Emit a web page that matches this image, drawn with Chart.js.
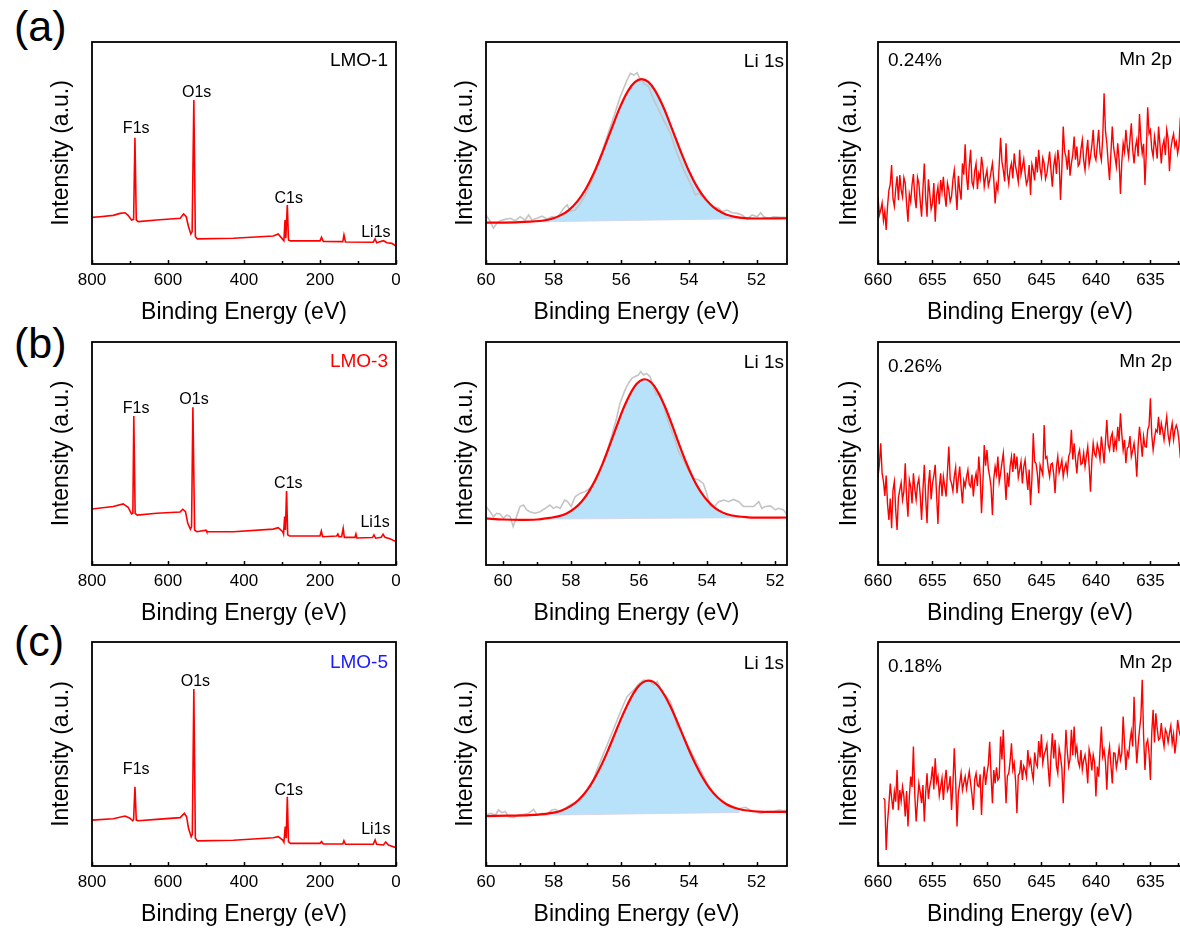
<!DOCTYPE html>
<html>
<head>
<meta charset="utf-8">
<title>XPS spectra of LMO samples</title>
<script src="https://cdn.jsdelivr.net/npm/chart.js@4.4.1/dist/chart.umd.min.js"></script>
<style>
  html, body { margin: 0; padding: 0; background: #fff; }
  body { position: relative; width: 1180px; height: 928px; overflow: hidden; }
  canvas { position: absolute; }
  .tag { position: absolute; left: 14px; font: 43px 'Liberation Sans', Arial, sans-serif; line-height: 43px; color: #000; }
</style>
</head>
<body>
<div class="tag" style="top:5px">(a)</div>
<div class="tag" style="top:322px">(b)</div>
<div class="tag" style="top:620px">(c)</div>
<script>
// ---- survey spectra (binding energy in eV, intensity in a.u.) ----
const surveyEnergyA = [800, 779, 744, 726, 713, 705, 696, 690.5, 687, 683.5, 678, 630, 568, 559, 552, 546, 540, 536.5, 532, 528, 522.5, 428, 323, 310, 298, 295, 292, 290, 286, 283, 278, 200, 196, 191.5, 140, 137, 133, 60, 55, 51, 33, 24, 11, 0];
const surveyLMO1 = [21.0, 21.3, 21.9, 22.8, 23.1, 21.9, 19.8, 20.1, 56.9, 19.8, 19.1, 19.8, 20.6, 22.5, 21.3, 16.8, 13.5, 14.6, 73.9, 12.3, 11.3, 11.6, 12.6, 13.5, 11.1, 10.5, 19.8, 11.6, 26.6, 10.8, 10.4, 10.4, 12.0, 10.2, 10.1, 13.1, 9.9, 9.8, 11.3, 9.6, 10.5, 9.6, 9.3, 8.1];

const surveyEnergyB = [800, 744, 718, 705, 696, 692.5, 690, 686.5, 681, 630, 568, 561, 554, 548, 541, 538, 534.5, 530, 524, 500, 498, 428, 323, 310, 298, 296, 293, 291, 288, 285, 280, 200, 196.5, 193, 156, 153, 150, 143, 139, 136, 108, 105.5, 103, 62, 58, 53.5, 39, 34, 29, 16, 0];
const surveyLMO3 = [25.1, 26.2, 27.4, 25.9, 22.9, 23.2, 66.8, 23.2, 22.4, 23.2, 23.8, 25.0, 23.9, 18.7, 16.0, 17.2, 70.7, 15.7, 14.9, 15.6, 14.9, 14.9, 16.1, 16.7, 14.9, 13.9, 21.7, 15.7, 33.2, 13.5, 13.0, 13.0, 15.2, 12.7, 13.0, 13.9, 12.7, 12.7, 16.4, 12.4, 12.4, 13.9, 12.1, 12.3, 13.5, 12.0, 12.4, 13.8, 12.4, 11.8, 10.5];

const surveyEnergyC = [800, 744, 713, 700, 693, 690.5, 687, 683.5, 678, 630, 568, 557, 551, 546, 539, 536, 532, 528, 522.5, 428, 323, 310, 298, 295, 291.5, 289, 286, 283, 278, 200, 196, 191.5, 140, 137, 133, 60, 55, 51, 33, 27, 20, 0];
const surveyLMO5 = [20.5, 21.1, 22.3, 21.3, 20.2, 20.8, 35.4, 20.5, 20.2, 20.8, 21.6, 23.5, 22.0, 16.8, 13.1, 14.3, 79.0, 12.4, 11.2, 11.5, 12.6, 13.1, 11.6, 10.6, 17.6, 12.4, 30.9, 10.9, 10.1, 10.1, 10.9, 9.8, 9.8, 11.3, 9.7, 9.7, 11.6, 9.7, 9.4, 10.7, 9.4, 8.2];

// peak labels: name, energy and the intensity of the text baseline
const peakNames = ['F1s', 'O1s', 'C1s', 'Li1s'];
const peakEnergyA = [683.7, 524.6, 282.5, 53];
const peakLevelA = [58.9, 75.4, 27.3, 12.3];
const peakEnergyB = [684, 531.5, 283.3, 55];
const peakLevelB = [68.0, 72.2, 34.4, 17.2];
const peakEnergyC = [683.7, 528, 282.5, 53];
const peakLevelC = [41.1, 80.4, 31.7, 14.3];

// ---- Li 1s: raw counts, fitted peak, background line ----
const li1RawE = [60.0, 59.87, 59.78, 59.68, 59.58, 59.43, 59.28, 59.13, 58.99, 58.84, 58.74, 58.64, 58.49, 58.34, 58.20, 58.05, 57.90, 57.70, 57.60, 57.51, 57.36, 57.21, 57.06, 56.86, 56.62, 56.42, 56.22, 56.03, 55.83, 55.73, 55.63, 55.53, 55.48, 55.34, 55.19, 55.04, 54.94, 54.75, 54.55, 54.35, 54.15, 53.96, 53.81, 53.71, 53.61, 53.51, 53.31, 53.12, 53.02, 52.87, 52.72, 52.57, 52.43, 52.28, 52.13, 51.98, 51.88, 51.79, 51.64, 51.49, 51.29, 51.14];
const li1Raw = [22.1, 19.1, 16.1, 18.3, 19.5, 20.1, 20.6, 19.5, 21.3, 19.8, 22.1, 19.8, 20.6, 21.6, 20.3, 21.3, 20.6, 25.1, 26.6, 23.6, 24.3, 27.3, 31.1, 37.8, 48.3, 57.4, 66.4, 75.4, 82.9, 85.9, 85.1, 86.2, 84.4, 81.4, 79.9, 73.9, 70.9, 64.9, 58.9, 49.8, 42.3, 36.3, 31.1, 31.8, 30.3, 28.8, 25.8, 25.1, 23.6, 24.3, 23.1, 22.8, 22.1, 20.3, 22.1, 21.3, 23.1, 21.3, 20.6, 21.3, 21.0, 21.0];
const li1FitE = [60.0, 59.0, 58.3, 58.05, 57.8, 57.55, 57.3, 57.05, 56.8, 56.55, 56.3, 56.05, 55.8, 55.6, 55.4, 55.2, 55.0, 54.75, 54.5, 54.25, 54.0, 53.75, 53.5, 53.25, 53.0, 52.75, 52.5, 52.0, 51.1];
const li1Fit = [18.6, 18.9, 19.6, 20.4, 21.9, 24.3, 28.2, 33.8, 41.3, 50.5, 60.4, 70.2, 78.0, 81.9, 83.3, 82.0, 78.1, 70.5, 60.9, 51.0, 41.9, 34.5, 29.1, 25.3, 23.0, 21.6, 20.9, 20.5, 20.6];
const li1BgE = [58.4, 52.4];
const li1Bg = [19.0, 20.4];

const li3RawE = [60.5, 60.38, 60.28, 60.19, 60.09, 59.99, 59.89, 59.79, 59.70, 59.60, 59.50, 59.40, 59.30, 59.21, 59.06, 58.91, 58.76, 58.62, 58.52, 58.42, 58.32, 58.19, 58.10, 58.0, 57.88, 57.74, 57.59, 57.44, 57.25, 57.10, 56.96, 56.81, 56.66, 56.56, 56.41, 56.31, 56.21, 56.12, 56.02, 55.95, 55.87, 55.78, 55.68, 55.58, 55.49, 55.39, 55.29, 55.19, 55.09, 54.94, 54.84, 54.70, 54.55, 54.40, 54.25, 54.11, 54.01, 53.91, 53.78, 53.66, 53.51, 53.37, 53.22, 53.07, 52.93, 52.78, 52.63, 52.48, 52.39, 52.29, 52.14, 51.99, 51.90, 51.75, 51.65];
const li3Raw = [26.2, 23.9, 21.7, 23.2, 22.9, 20.9, 22.4, 21.7, 17.2, 21.7, 26.2, 26.9, 24.7, 23.9, 23.2, 23.9, 25.4, 26.9, 25.4, 26.2, 25.4, 29.1, 28.4, 26.2, 30.6, 32.1, 32.9, 34.4, 38.1, 44.1, 50.1, 57.5, 65.8, 72.5, 78.5, 81.5, 83.7, 84.5, 85.2, 86.7, 85.2, 85.9, 84.5, 80.0, 76.2, 77.0, 72.5, 66.5, 62.0, 56.1, 50.8, 47.1, 42.6, 38.9, 38.1, 36.6, 32.1, 26.2, 26.2, 28.4, 29.1, 28.4, 29.4, 28.4, 26.2, 26.2, 26.2, 28.4, 25.4, 26.2, 26.5, 24.7, 25.4, 24.7, 22.4];
const li3FitE = [60.5, 60.0, 59.5, 59.0, 58.6, 58.38, 58.13, 57.88, 57.68, 57.48, 57.28, 57.08, 56.9, 56.73, 56.43, 56.13, 55.98, 55.84, 55.7, 55.55, 55.25, 54.95, 54.78, 54.6, 54.4, 54.2, 54.0, 53.8, 53.55, 53.3, 52.8, 52.3, 51.65];
const li3Fit = [20.9, 20.4, 20.2, 20.4, 21.2, 21.8, 23.1, 25.6, 28.6, 32.8, 38.3, 45.1, 52.2, 59.3, 71.3, 80.1, 82.5, 83.3, 82.6, 80.2, 71.4, 59.5, 52.4, 45.4, 38.6, 33.1, 29.0, 26.0, 23.6, 22.3, 21.4, 21.2, 21.3];
const li3BgE = [58.7, 53.0];
const li3Bg = [20.6, 21.2];

const li5RawE = [60.0, 59.87, 59.72, 59.63, 59.53, 59.43, 59.33, 59.18, 59.04, 58.89, 58.74, 58.59, 58.49, 58.34, 58.20, 58.05, 57.95, 57.80, 57.60, 57.41, 57.21, 57.01, 56.86, 56.72, 56.52, 56.32, 56.12, 55.98, 55.83, 55.63, 55.48, 55.34, 55.19, 55.04, 54.94, 54.84, 54.70, 54.55, 54.45, 54.35, 54.20, 54.05, 53.86, 53.66, 53.46, 53.27, 53.07, 52.87, 52.67, 52.48, 52.33, 52.18, 52.04, 51.88, 51.69, 51.49, 51.34, 51.20, 51.1];
const li5Raw = [22.8, 23.5, 22.8, 25.0, 23.8, 24.3, 22.0, 21.7, 22.8, 23.1, 23.5, 25.3, 22.8, 23.5, 23.2, 25.0, 25.3, 23.8, 26.5, 28.0, 29.5, 33.9, 36.9, 42.9, 50.3, 57.7, 65.2, 70.4, 75.6, 78.6, 81.3, 83.0, 82.7, 80.8, 82.3, 79.3, 76.3, 73.4, 68.9, 62.2, 59.2, 54.0, 48.8, 42.9, 36.9, 32.4, 29.5, 26.8, 25.7, 25.7, 26.2, 25.0, 24.3, 23.5, 24.3, 24.3, 25.0, 24.6, 25.0];
const li5FitE = [60.0, 59.3, 58.6, 58.0, 57.75, 57.5, 57.25, 57.0, 56.8, 56.6, 56.4, 56.2, 56.0, 55.85, 55.7, 55.5, 55.35, 55.2, 55.05, 54.9, 54.7, 54.55, 54.4, 54.2, 54.0, 53.8, 53.6, 53.4, 53.15, 52.9, 52.65, 52.4, 51.8, 51.1];
const li5Fit = [22.3, 22.45, 22.8, 23.8, 24.9, 26.7, 29.7, 34.1, 38.9, 44.7, 51.4, 58.7, 66.0, 71.0, 75.5, 80.1, 82.1, 82.8, 82.2, 80.2, 75.7, 71.3, 66.3, 59.1, 51.9, 45.3, 39.6, 34.9, 30.6, 27.7, 26.0, 25.0, 24.2, 24.2];
const li5BgE = [58.3, 52.5];
const li5Bg = [22.7, 23.9];

// ---- Mn 2p region, 0.125 eV steps ----
const mnEnergy = [
  660, 659.875, 659.75, 659.625, 659.5, 659.375, 659.25, 659.125, 659, 658.875, 658.75, 658.625, 658.5, 658.375, 658.25, 658.125,
  658, 657.875, 657.75, 657.625, 657.5, 657.375, 657.25, 657.125, 657, 656.875, 656.75, 656.625, 656.5, 656.375, 656.25, 656.125,
  656, 655.875, 655.75, 655.625, 655.5, 655.375, 655.25, 655.125, 655, 654.875, 654.75, 654.625, 654.5, 654.375, 654.25, 654.125,
  654, 653.875, 653.75, 653.625, 653.5, 653.375, 653.25, 653.125, 653, 652.875, 652.75, 652.625, 652.5, 652.375, 652.25, 652.125,
  652, 651.875, 651.75, 651.625, 651.5, 651.375, 651.25, 651.125, 651, 650.875, 650.75, 650.625, 650.5, 650.375, 650.25, 650.125,
  650, 649.875, 649.75, 649.625, 649.5, 649.375, 649.25, 649.125, 649, 648.875, 648.75, 648.625, 648.5, 648.375, 648.25, 648.125,
  648, 647.875, 647.75, 647.625, 647.5, 647.375, 647.25, 647.125, 647, 646.875, 646.75, 646.625, 646.5, 646.375, 646.25, 646.125,
  646, 645.875, 645.75, 645.625, 645.5, 645.375, 645.25, 645.125, 645, 644.875, 644.75, 644.625, 644.5, 644.375, 644.25, 644.125,
  644, 643.875, 643.75, 643.625, 643.5, 643.375, 643.25, 643.125, 643, 642.875, 642.75, 642.625, 642.5, 642.375, 642.25, 642.125,
  642, 641.875, 641.75, 641.625, 641.5, 641.375, 641.25, 641.125, 641, 640.875, 640.75, 640.625, 640.5, 640.375, 640.25, 640.125,
  640, 639.875, 639.75, 639.625, 639.5, 639.375, 639.25, 639.125, 639, 638.875, 638.75, 638.625, 638.5, 638.375, 638.25, 638.125,
  638, 637.875, 637.75, 637.625, 637.5, 637.375, 637.25, 637.125, 637, 636.875, 636.75, 636.625, 636.5, 636.375, 636.25, 636.125,
  636, 635.875, 635.75, 635.625, 635.5, 635.375, 635.25, 635.125, 635, 634.875, 634.75, 634.625, 634.5, 634.375, 634.25, 634.125,
  634, 633.875, 633.75, 633.625, 633.5, 633.375, 633.25, 633.125, 633, 632.875, 632.75, 632.625, 632.5, 632.375, 632.25
];
const mnLMO1 = [
  30.3, 22.0, 24.3, 27.5, 19.6, 23.8, 15.3, 26.1, 33.2, 36.0, 44.6, 29.4, 26.0, 33.8, 39.5, 28.7,
  40.1, 33.4, 30.3, 38.9, 36.3, 27.2, 19.0, 31.5, 28.1, 35.7, 40.5, 30.2, 25.1, 39.0, 36.3, 28.4,
  21.3, 34.0, 45.3, 29.6, 21.3, 38.2, 31.8, 24.7, 27.3, 36.5, 19.1, 30.8, 34.8, 26.9, 37.8, 32.6,
  39.3, 31.0, 25.8, 36.4, 33.3, 28.1, 30.3, 37.9, 42.3, 33.6, 24.3, 39.7, 33.3, 29.0, 45.3, 40.2,
  53.9, 39.5, 33.3, 44.0, 51.4, 36.8, 34.8, 41.9, 45.3, 33.7, 40.8, 38.3, 48.3, 43.5, 34.8, 39.1,
  42.3, 35.2, 37.8, 41.6, 45.3, 38.0, 27.3, 35.9, 33.3, 44.8, 56.9, 46.1, 42.3, 37.2, 54.4, 41.0,
  36.3, 42.7, 45.3, 38.5, 49.8, 44.1, 40.8, 37.0, 51.4, 40.3, 43.8, 47.2, 40.8, 35.9, 37.8, 44.6,
  31.1, 44.9, 42.3, 37.6, 48.3, 41.2, 51.4, 43.0, 39.3, 47.7, 45.3, 38.4, 40.8, 45.5, 50.6, 42.1,
  34.8, 44.1, 48.3, 40.6, 51.4, 46.0, 28.8, 43.2, 61.9, 50.7, 48.3, 42.5, 51.4, 39.8, 45.3, 49.4,
  57.4, 47.0, 52.9, 44.2, 45.3, 51.6, 55.9, 46.8, 42.3, 50.1, 55.9, 44.7, 48.3, 53.3, 60.4, 48.9,
  46.8, 53.5, 60.4, 50.2, 46.8, 57.0, 76.9, 60.1, 54.4, 45.6, 37.8, 49.9, 61.9, 52.4, 48.3, 44.0,
  54.4, 47.1, 31.6, 45.8, 54.4, 50.6, 60.4, 53.0, 48.3, 56.2, 63.4, 51.5, 45.3, 52.7, 55.9, 48.4,
  67.6, 56.0, 49.8, 54.1, 35.6, 50.3, 70.6, 58.8, 60.4, 51.7, 48.3, 57.4, 52.9, 47.5, 61.9, 53.9,
  45.3, 53.2, 55.9, 49.0, 60.4, 56.3, 41.8, 51.8, 55.9, 58.6, 52.9, 55.0, 49.8, 53.7, 66.0
];
const mnLMO3 = [
  39.6, 45.0, 54.6, 41.2, 37.6, 31.0, 40.1, 27.4, 20.2, 29.8, 16.5, 33.5, 37.4, 24.6, 15.7, 30.2,
  33.7, 36.9, 29.2, 33.0, 45.6, 30.4, 21.7, 38.2, 35.1, 27.6, 41.1, 34.3, 29.2, 36.0, 38.8, 31.2,
  20.2, 33.6, 44.9, 30.1, 18.7, 35.8, 42.6, 29.4, 36.6, 40.0, 44.9, 31.7, 18.4, 34.5, 41.1, 30.8,
  39.6, 35.3, 30.7, 42.0, 53.1, 38.4, 36.6, 33.1, 39.6, 43.7, 32.2, 38.9, 44.1, 35.0, 27.6, 37.7,
  35.1, 39.4, 42.6, 36.2, 35.1, 40.5, 30.7, 37.9, 41.1, 35.4, 48.6, 40.2, 23.2, 36.7, 53.8, 44.5,
  51.6, 43.2, 39.6, 35.0, 22.4, 38.6, 44.1, 40.7, 48.6, 37.3, 41.1, 45.8, 50.1, 39.9, 29.2, 41.4,
  35.1, 44.3, 48.6, 41.7, 50.1, 43.0, 48.6, 39.2, 42.6, 46.4, 36.6, 44.0, 47.1, 40.1, 33.7, 42.8,
  26.9, 38.5, 59.1, 46.3, 45.6, 41.0, 32.2, 44.8, 42.6, 40.5, 62.8, 47.9, 48.6, 43.3, 39.6, 45.2,
  45.6, 40.8, 32.2, 43.9, 48.6, 41.5, 44.1, 47.0, 39.6, 43.4, 45.6, 41.2, 48.6, 50.6, 60.6, 47.3,
  54.6, 47.5, 41.1, 49.3, 51.6, 45.1, 45.6, 50.2, 44.1, 48.8, 53.1, 44.6, 32.9, 46.7, 54.6, 50.0,
  48.6, 54.2, 51.6, 47.4, 57.6, 52.0, 45.6, 55.3, 65.0, 53.9, 51.6, 57.2, 59.1, 50.6, 56.1, 52.8,
  62.0, 55.5, 68.0, 58.7, 51.6, 56.1, 45.6, 52.4, 53.1, 57.8, 48.6, 51.3, 54.6, 49.0, 39.6, 53.6,
  62.0, 55.8, 48.6, 57.6, 53.1, 52.9, 60.6, 62.4, 74.8, 58.2, 51.6, 56.9, 60.6, 59.7, 66.5, 58.3,
  63.5, 60.2, 56.1, 61.8, 66.5, 58.4, 54.6, 59.9, 63.5, 56.3, 60.6, 62.7, 60.6, 55.5, 47.9
];
const mnLMO5 = [
  null, null, null, null, 30.3, 29.6, 7.2, 19.5, 27.4, 36.8, 30.3, 25.1, 33.2, 28.7, 42.9, 24.9,
  33.9, 29.0, 35.4, 31.2, 22.1, 33.5, 17.6, 30.6, 39.9, 35.3, 53.3, 31.9, 19.9, 28.4, 36.9, 33.0,
  28.0, 36.1, 19.9, 32.7, 41.4, 30.0, 35.4, 38.6, 44.4, 34.2, 48.1, 37.5, 39.9, 31.4, 35.4, 39.3,
  29.5, 37.8, 42.9, 33.6, 35.4, 40.1, 25.0, 36.3, 52.6, 38.0, 17.6, 32.4, 36.9, 41.5, 33.9, 37.1,
  39.9, 34.5, 38.4, 42.2, 36.9, 31.8, 25.0, 38.7, 41.4, 36.0, 35.4, 40.9, 22.8, 37.4, 44.4, 36.2,
  41.4, 45.3, 55.5, 40.6, 28.0, 42.8, 36.9, 44.1, 38.4, 39.5, 57.8, 47.6, 60.8, 43.9, 28.0, 40.2,
  41.4, 46.9, 54.8, 43.0, 45.9, 38.2, 23.6, 40.5, 41.4, 47.3, 38.4, 44.6, 42.9, 39.8, 51.8, 45.0,
  47.4, 42.1, 38.4, 50.7, 45.9, 44.3, 55.8, 48.5, 58.8, 46.0, 49.8, 51.6, 54.3, 43.8, 35.4, 49.1,
  59.3, 48.0, 56.3, 44.7, 41.4, 52.5, 48.9, 43.6, 28.0, 45.2, 60.8, 50.9, 44.4, 47.8, 60.8, 49.5,
  62.3, 50.1, 53.3, 46.6, 44.4, 51.8, 43.0, 47.2, 49.6, 44.9, 36.9, 52.0, 48.9, 42.7, 49.6, 46.3,
  31.0, 44.4, 39.9, 51.2, 62.3, 49.0, 51.8, 46.5, 34.0, 48.7, 53.3, 45.1, 36.9, 50.5, 50.3, 43.9,
  47.4, 52.8, 47.4, 50.3, 66.7, 54.6, 42.9, 51.0, 48.9, 55.7, 60.0, 53.4, 75.6, 57.9, 45.9, 54.2,
  60.8, 66.5, 83.1, 58.0, 42.9, 54.4, 56.3, 50.2, 38.4, 59.6, 69.7, 55.1, 68.2, 61.3, 56.3, 57.0,
  63.8, 57.4, 53.3, 61.0, 59.3, 55.2, 59.3, 62.6, 54.8, 58.9, 50.3, 56.0, 65.2, 60.7, 58.0
];

// axis ticks
const surveyTicks = [800, 600, 400, 200, 0];
const surveyMinor = [700, 500, 300, 100];
const liTicks = [60, 58, 56, 54, 52];
const liMinor = [59, 57, 55, 53];
const mnTicks = [660, 655, 650, 645, 640, 635];
const mnMinor = [657.5, 652.5, 647.5, 642.5, 637.5, 632.5];

// ---------------------------------------------------------------
const FONT = "'Liberation Sans', Arial, sans-serif";
Chart.defaults.font.family = FONT;
Chart.defaults.color = '#000';

// plot boxes in page pixels
const COLS = [
  { L: 92, R: 396, gap: 30 },
  { L: 486, R: 787, gap: 20 },
  { L: 878, R: 1182, gap: 28 }
];
const ROWS = [
  { T: 42, B: 264 },
  { T: 342, B: 565 },
  { T: 642, B: 866 }
];

const RED = '#ff0000';
const GREY = '#c4c4c4';
const BLUE_FILL = 'rgb(184,226,250)';

function zip(xs, ys) {
  return xs.map((x, i) => ({ x: x, y: ys[i] }));
}

// closed frame, inward ticks and text annotations
const framePlugin = {
  id: 'frame',
  afterDatasetsDraw(chart, args, opts) {
    const { ctx, chartArea: a, scales } = chart;
    const x = scales.x, y = scales.y;
    ctx.save();
    ctx.strokeStyle = '#000';
    ctx.lineWidth = 1.5;
    const tick = (v, len) => {
      const px = Math.round(x.getPixelForValue(v)) + 0.5;
      ctx.beginPath();
      ctx.moveTo(px, a.bottom);
      ctx.lineTo(px, a.bottom - len);
      ctx.stroke();
    };
    (opts.major || []).forEach(v => tick(v, 4));
    (opts.minor || []).forEach(v => tick(v, 3));
    ctx.lineWidth = 1.8;
    ctx.strokeRect(a.left, a.top, a.right - a.left, a.bottom - a.top);

    ctx.textBaseline = 'alphabetic';
    if (opts.peaks) {
      ctx.font = '16px ' + FONT;
      ctx.fillStyle = '#000';
      ctx.textAlign = 'center';
      opts.peaks.names.forEach((n, i) => {
        ctx.fillText(n, x.getPixelForValue(opts.peaks.e[i]), y.getPixelForValue(opts.peaks.v[i]));
      });
    }
    (opts.notes || []).forEach(n => {
      ctx.font = '19px ' + FONT;
      ctx.fillStyle = n.color || '#000';
      ctx.textAlign = n.align;
      const px = n.align === 'right' ? a.right - n.dx : a.left + n.dx;
      ctx.fillText(n.text, px, a.top + n.dy);
    });
    ctx.restore();
  }
};

function makePanel(row, col, range, ticks, minor, datasets, frameOpts) {
  const r = ROWS[row], c = COLS[col];
  const cv = document.createElement('canvas');
  cv.width = c.R - c.L + 80;
  cv.height = r.B - r.T + 80;
  cv.style.left = (c.L - 70) + 'px';
  cv.style.top = (r.T - 10) + 'px';
  document.body.appendChild(cv);

  new Chart(cv, {
    type: 'line',
    data: { datasets: datasets },
    options: {
      responsive: false,
      animation: false,
      devicePixelRatio: 1,
      layout: { padding: { top: 10, right: 10, left: 0, bottom: 0 } },
      elements: { point: { radius: 0 } },
      plugins: {
        legend: { display: false },
        tooltip: { enabled: false },
        filler: { drawTime: 'beforeDatasetsDraw' },
        frame: Object.assign({ major: ticks, minor: minor }, frameOpts)
      },
      scales: {
        x: {
          type: 'linear',
          reverse: true,
          min: range[1],
          max: range[0],
          afterBuildTicks: s => { s.ticks = ticks.map(v => ({ value: v })); },
          ticks: { font: { size: 17 }, color: '#000', padding: 6, maxRotation: 0, autoSkip: false, callback: v => String(v) },
          grid: { display: false, drawTicks: false },
          border: { display: false },
          title: { display: true, text: 'Binding Energy (eV)', font: { size: 23 }, color: '#000', padding: { top: 0, bottom: 8 } },
          afterFit: s => { s.height = 70; s.paddingLeft = 0; s.paddingRight = 0; }
        },
        y: {
          min: 0,
          max: 100,
          ticks: { display: false },
          grid: { display: false, drawTicks: false },
          border: { display: false },
          title: { display: true, text: 'Intensity (a.u.)', font: { size: 23 }, color: '#000', padding: { top: 56 - c.gap, bottom: 0 } },
          afterFit: s => { s.width = 70; s.paddingTop = 0; s.paddingBottom = 0; }
        }
      }
    },
    plugins: [framePlugin]
  });
}

function surveySet(e, v) {
  return [{ data: zip(e, v), borderColor: RED, borderWidth: 1.6, tension: 0, fill: false }];
}

function liSets(rawE, raw, fitE, fit, bgE, bg) {
  return [
    { data: zip(rawE, raw), borderColor: GREY, borderWidth: 1.6, tension: 0, fill: false, order: 1 },
    { data: zip(fitE, fit), borderColor: RED, borderWidth: 2.2, cubicInterpolationMode: 'monotone', fill: '+1', backgroundColor: BLUE_FILL, order: 0 },
    { data: zip(bgE, bg), borderColor: 'rgba(214,208,236,0.8)', borderWidth: 1, tension: 0, fill: false, order: 2 }
  ];
}

function mnSet(v) {
  return [{ data: zip(mnEnergy, v), borderColor: RED, borderWidth: 1.4, tension: 0, fill: false }];
}

// row (a)
makePanel(0, 0, [800, 0], surveyTicks, surveyMinor, surveySet(surveyEnergyA, surveyLMO1), {
  peaks: { names: peakNames, e: peakEnergyA, v: peakLevelA },
  notes: [{ text: 'LMO-1', align: 'right', dx: 8, dy: 24 }]
});
makePanel(0, 1, [60, 51.1], liTicks, liMinor, liSets(li1RawE, li1Raw, li1FitE, li1Fit, li1BgE, li1Bg), {
  notes: [{ text: 'Li 1s', align: 'right', dx: 3, dy: 25 }]
});
makePanel(0, 2, [660, 632.1], mnTicks, mnMinor, mnSet(mnLMO1), {
  notes: [
    { text: '0.24%', align: 'left', dx: 10, dy: 24 },
    { text: 'Mn 2p', align: 'right', dx: 10, dy: 23 }
  ]
});

// row (b)
makePanel(1, 0, [800, 0], surveyTicks, surveyMinor, surveySet(surveyEnergyB, surveyLMO3), {
  peaks: { names: peakNames, e: peakEnergyB, v: peakLevelB },
  notes: [{ text: 'LMO-3', align: 'right', dx: 8, dy: 25, color: '#ff0000' }]
});
makePanel(1, 1, [60.5, 51.65], liTicks, liMinor, liSets(li3RawE, li3Raw, li3FitE, li3Fit, li3BgE, li3Bg), {
  notes: [{ text: 'Li 1s', align: 'right', dx: 3, dy: 26 }]
});
makePanel(1, 2, [660, 632.1], mnTicks, mnMinor, mnSet(mnLMO3), {
  notes: [
    { text: '0.26%', align: 'left', dx: 10, dy: 30 },
    { text: 'Mn 2p', align: 'right', dx: 10, dy: 25 }
  ]
});

// row (c)
makePanel(2, 0, [800, 0], surveyTicks, surveyMinor, surveySet(surveyEnergyC, surveyLMO5), {
  peaks: { names: peakNames, e: peakEnergyC, v: peakLevelC },
  notes: [{ text: 'LMO-5', align: 'right', dx: 8, dy: 26, color: '#1a1aff' }]
});
makePanel(2, 1, [60, 51.1], liTicks, liMinor, liSets(li5RawE, li5Raw, li5FitE, li5Fit, li5BgE, li5Bg), {
  notes: [{ text: 'Li 1s', align: 'right', dx: 3, dy: 27 }]
});
makePanel(2, 2, [660, 632.1], mnTicks, mnMinor, mnSet(mnLMO5), {
  notes: [
    { text: '0.18%', align: 'left', dx: 10, dy: 30 },
    { text: 'Mn 2p', align: 'right', dx: 10, dy: 26 }
  ]
});
</script>
</body>
</html>
